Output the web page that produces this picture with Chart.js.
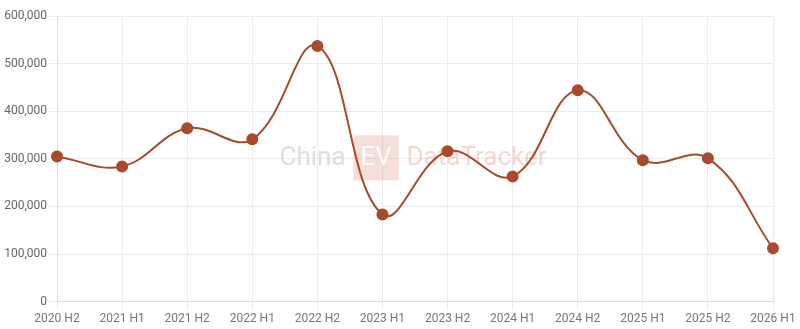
<!DOCTYPE html>
<html>
<head>
<meta charset="utf-8">
<script src="https://cdn.jsdelivr.net/npm/chart.js@4"></script>
<style>
html, body { margin: 0; padding: 0; background: #fff; }
#wrap { width: 800px; height: 329px; }
</style>
</head>
<body>
<div id="wrap"><canvas id="c"></canvas></div>
<script>
// half-year periods
var periods = ['2020 H2', '2021 H1', '2021 H2', '2022 H1', '2022 H2', '2023 H1',
	'2023 H2', '2024 H1', '2024 H2', '2025 H1', '2025 H2', '2026 H1'];
// values
var values = [305000, 284000, 364000, 341000, 537000, 183000,
	316000, 263000, 444000, 297000, 301000, 112000];
var yTicks = [0, 100000, 200000, 300000, 400000, 500000, 600000];

var lineColor = '#a84a2b';

//watermark drawn behind the line
var watermark = {
	id: 'watermark',
	beforeDatasetsDraw: function(chart) {
		var ctx = chart.ctx, a = chart.chartArea;
		var cx = (a.left + a.right) / 2 - 2, cy = (a.top + a.bottom) / 2;
		ctx.save();
		ctx.font = '26px Roboto';
		ctx.textBaseline = 'middle';
		var w1 = ctx.measureText('China').width;
		var w2 = ctx.measureText('EV').width;
		var w3 = ctx.measureText('DataTracker').width;
		var box = 45, gap = 8;
		var total = w1 + gap + box + gap + w3;
		var x = cx - total / 2;
		ctx.fillStyle = 'rgba(195,195,195,0.55)';
		ctx.fillText('China', x, cy);
		x += w1 + gap;
		ctx.fillStyle = 'rgba(225,150,125,0.3)';
		ctx.fillRect(x, cy - box / 2 - 1, box, box);
		ctx.fillStyle = 'rgba(255,255,255,0.9)';
		ctx.fillText('EV', x + (box - w2) / 2, cy);
		x += box + gap;
		ctx.fillStyle = 'rgba(225,160,140,0.4)';
		ctx.fillText('DataTracker', x, cy);
		ctx.restore();
	}
};

Chart.defaults.font.family = 'Roboto';
Chart.defaults.font.size = 12;
Chart.defaults.color = '#666';

new Chart(document.getElementById('c'), {
	type: 'line',
	data: {
		labels: periods,
		datasets: [{
			data: values,
			borderColor: lineColor,
			backgroundColor: lineColor,
			borderWidth: 2,
			pointRadius: 5,
			pointHoverRadius: 6,
			tension: 0.4,
			fill: false
		}]
	},
	options: {
		responsive: true,
		maintainAspectRatio: false,
		animation: false,
		layout: { padding: { top: 16, right: 27, left: 0, bottom: 1 } },
		plugins: { legend: { display: false }, tooltip: { enabled: false } },
		scales: {
			x: {
				grid: { color: '#ececec' },
				border: { color: '#ddd' },
				ticks: { color: '#777', maxRotation: 0, padding: 2 }
			},
			y: {
				min: 0,
				max: 600000,
				afterBuildTicks: function(s) { s.ticks = yTicks.map(function(v) { return { value: v }; }); },
				afterFit: function(s) { s.width = 57; },
				grid: { color: '#ececec' },
				border: { color: '#ddd' },
				ticks: {
					color: '#666',
					padding: 2,
					callback: function(v) { return v.toLocaleString('en-US'); }
				}
			}
		}
	},
	plugins: [watermark]
});
</script>
</body>
</html>
